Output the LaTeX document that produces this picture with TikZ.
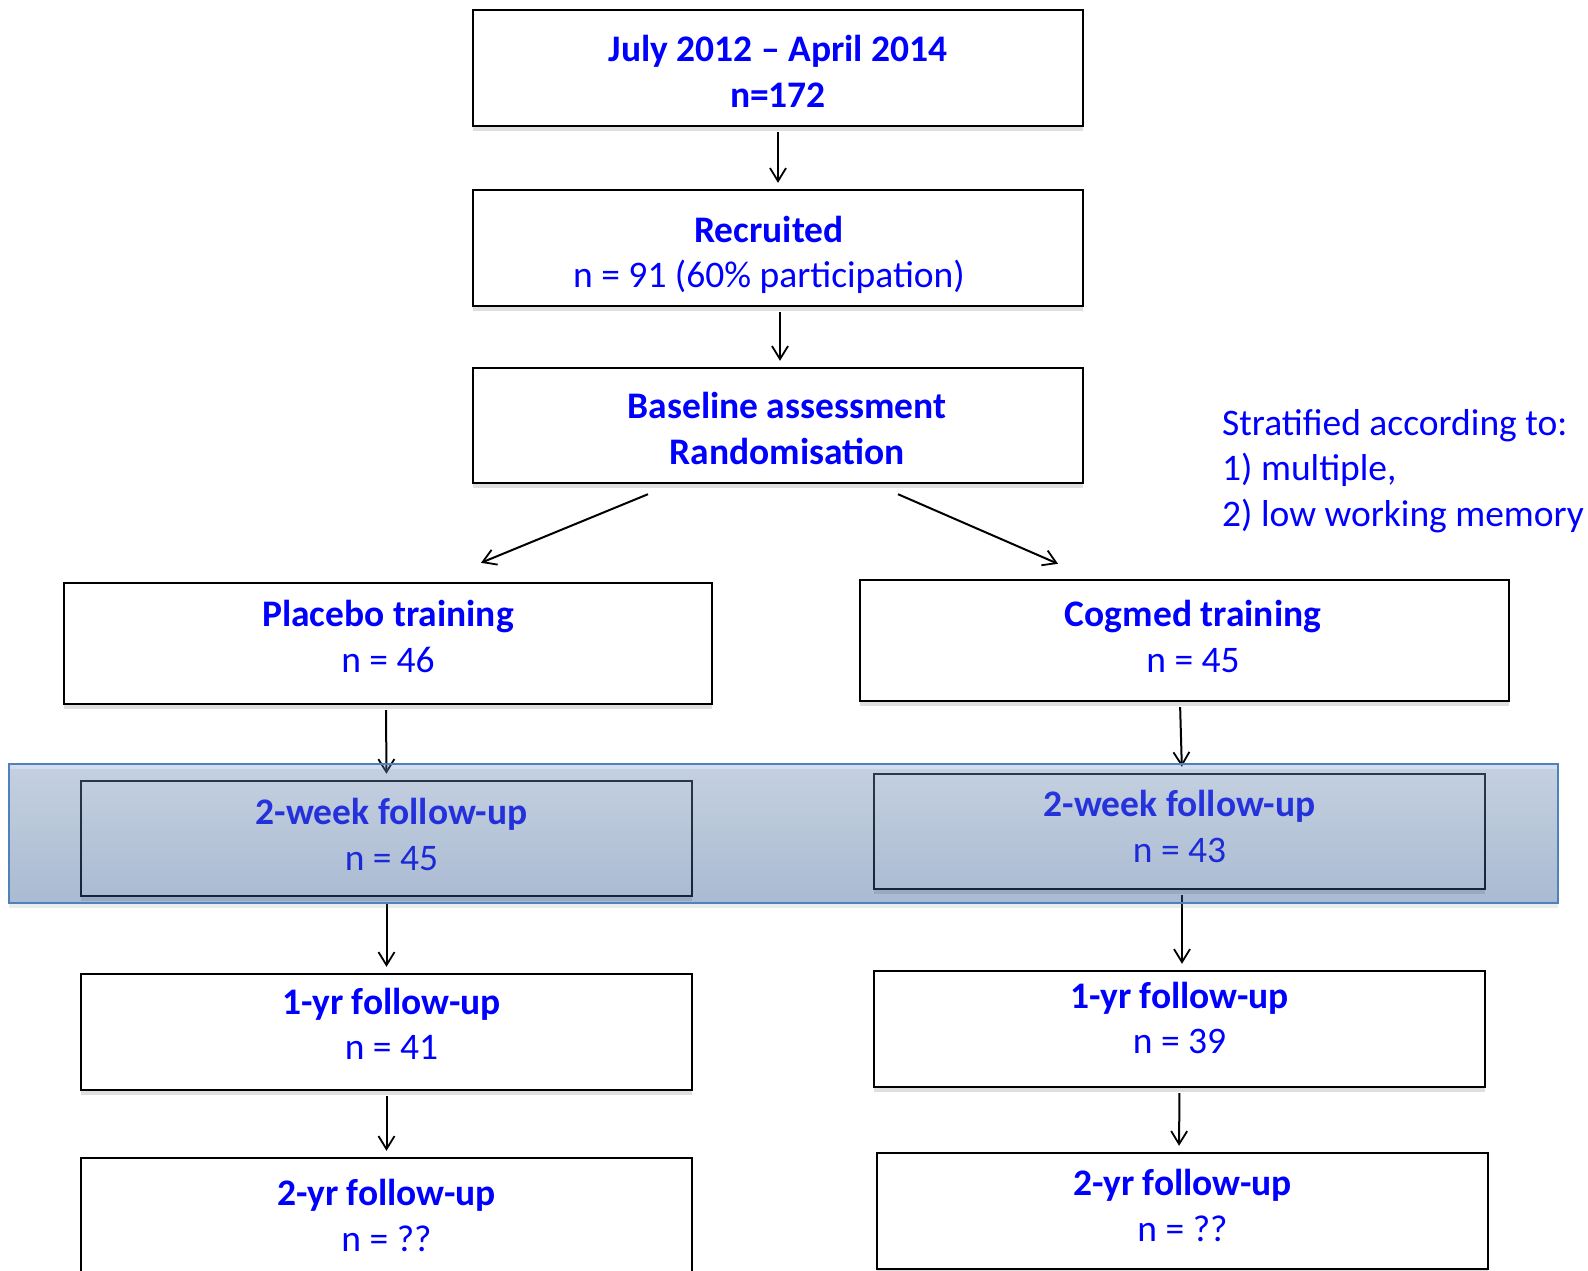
\documentclass[tikz,border=0pt]{standalone}
\usepackage{fontspec}
\setmainfont{Carlito}
\usetikzlibrary{arrows.meta,shadows,calc}
\definecolor{txtblue}{RGB}{0,0,255}
\definecolor{bandline}{RGB}{79,129,189}
\definecolor{bandtop}{RGB}{108,148,198}
\definecolor{bandbot}{RGB}{18,72,152}

\begin{document}
\begin{tikzpicture}[x=1pt, y=-1pt,
    >={Straight Barb[length=13pt, width=16pt, line width=1.8pt]},
    box/.style={draw=black, line width=2.4pt, fill=white, text=txtblue,
      align=center, inner sep=0pt, font=\fontsize{37.5}{45.5}\selectfont,
      minimum width=611pt, minimum height=116pt,
      text height=70.5pt, text depth=0pt,
      drop shadow={shadow xshift=0pt, shadow yshift=-5pt, opacity=0.25}},
    tpos/.style={text height=#1},
    arr/.style={->, line width=2pt, shorten <=5pt, shorten >=6pt},
    band/.style={draw=bandline, line width=1.5pt, top color=bandtop,
      bottom color=bandbot, fill opacity=0.3, draw opacity=1,
      minimum width=1549pt, minimum height=139pt, inner sep=0pt}]
\useasboundingbox (0,0) rectangle (1588,1271);

% top column
\node [box, minimum width=610pt, tpos=78.5pt] (period) at (778,68) {\textbf{July 2012 – April 2014}\\\textbf{n=172}};
\node [box, minimum width=610pt, tpos=79.5pt] (recr) at (778,248) {\textbf{Recruited}\hspace*{18pt}\\n = 91 (60\% participation)\hspace*{18pt}};
\node [box, minimum width=610pt, minimum height=115pt, tpos=77.5pt] (base) at (778,425.5) {\hspace*{18pt}\textbf{Baseline assessment}\\\hspace*{18pt}\textbf{Randomisation}};

% two arms
\node [box, minimum width=648pt, minimum height=121pt, tpos=57.5pt] (plac) at (388,643.5) {\textbf{Placebo training}\\n = 46};
\node [box, minimum width=649pt, minimum height=121pt, tpos=63.5pt] (cog) at (1184.5,640.5) {\hspace*{17pt}\textbf{Cogmed training}\\\hspace*{17pt}n = 45};
\node [box, minimum height=115pt, tpos=63.5pt] (wkL) at (386.5,838.5) {\hspace*{10pt}\textbf{2-week follow-up}\\\hspace*{10pt}n = 45};
\node [box, minimum height=115pt, tpos=61.5pt] (wkR) at (1179.5,831.5) {\textbf{2-week follow-up}\\n = 43};
\node [box, tpos=55.5pt] (yrL) at (386.5,1032) {\hspace*{10pt}\textbf{1-yr follow-up}\\\hspace*{10pt}n = 41};
\node [box, tpos=49.5pt] (yrR) at (1179.5,1029) {\textbf{1-yr follow-up}\\n = 39};
\node [box] (twoL) at (386.5,1216) {\textbf{2-yr follow-up}\\n = ??};
\node [box, tpos=60.5pt] (twoR) at (1182.5,1211) {\textbf{2-yr follow-up}\\n = ??};

% note
\node [anchor=west, align=left, text=txtblue, inner sep=0pt,
  font=\fontsize{37.5}{45.5}\selectfont] (strat) at (1222,471)
  {Stratified according to:\\1) multiple,\\2) low working memory};

% arrows
\draw [arr] (period) -- (recr);
\draw [arr] ([xshift=2pt]recr.south) -- ([xshift=2pt]base.north);
\coordinate (bl) at ($(base.south)+(-130,10)$);
\coordinate (br) at ($(base.south)+(120,10)$);
\draw [arr, shorten <=0pt, shorten >=0pt] (bl) -- ($(plac.north)+(93,-19)$);
\draw [arr, shorten <=0pt, shorten >=0pt] (br) -- ($(cog.north)+(-126.5,-15)$);
\draw [arr] ([xshift=-2pt]plac.south) -- (wkL.north);
\draw [arr] ([xshift=-4.5pt]cog.south) -- ([xshift=2.5pt]wkR.north);
\draw [arr] (wkL.south) -- (yrL.north);
\draw [arr] ([xshift=2.5pt]wkR.south) -- ([xshift=2.5pt]yrR.north);
\draw [arr] (yrL.south) -- (twoL.north);
\draw [arr] (yrR.south) -- ([xshift=-3.5pt]twoR.north);

% highlighted band
\node [band, drop shadow={shadow xshift=0pt, shadow yshift=-5pt, opacity=0.15}] (fu) at (783.5,833.5) {};
\end{tikzpicture}
\end{document}
